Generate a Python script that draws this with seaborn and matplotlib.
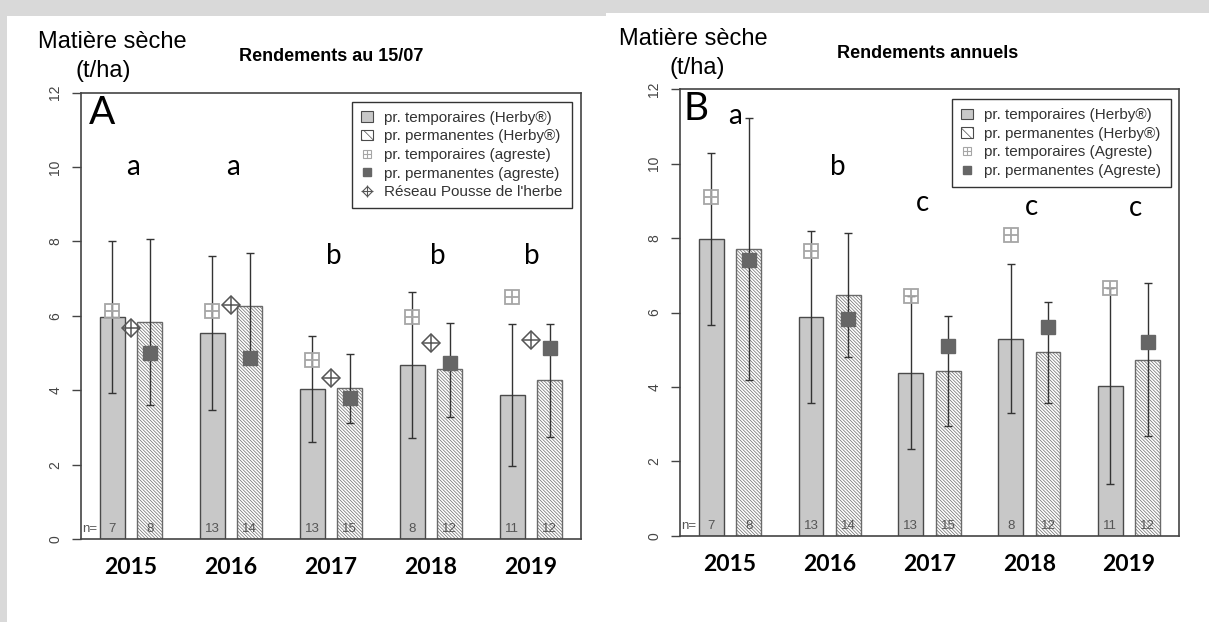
import pandas as pd
import seaborn as sns
import matplotlib.pyplot as plt
from matplotlib.patches import Patch, Rectangle
from matplotlib.lines import Line2D

years = ["2015", "2016", "2017", "2018", "2019"]
prairies = ["temporaires", "permanentes"]

# A : rendements au 15/07 (t MS/ha)
a_temp = [5.97, 5.53, 4.03, 4.68, 3.88]
a_perm = [5.83, 6.26, 4.05, 4.56, 4.28]
a_temp_lo = [3.93, 3.47, 2.60, 2.72, 1.95]
a_temp_hi = [8.00, 7.60, 5.46, 6.64, 5.77]
a_perm_lo = [3.61, 4.82, 3.11, 3.29, 2.75]
a_perm_hi = [8.06, 7.70, 4.98, 5.80, 5.77]
a_agreste_temp = [6.12, 6.13, 4.82, 5.97, 6.50]
a_agreste_perm = [5.01, 4.87, 3.79, 4.73, 5.14]
a_reseau = [5.67, 6.28, 4.32, 5.27, 5.34]
a_n_temp = [7, 13, 13, 8, 11]
a_n_perm = [8, 14, 15, 12, 12]
a_letters = ["a", "a", "b", "b", "b"]

# B : rendements annuels (t MS/ha)
b_temp = [7.98, 5.87, 4.38, 5.29, 4.02]
b_perm = [7.71, 6.47, 4.43, 4.93, 4.73]
b_temp_lo = [5.66, 3.58, 2.32, 3.29, 1.39]
b_temp_hi = [10.29, 8.19, 6.44, 7.30, 6.67]
b_perm_lo = [4.19, 4.81, 2.95, 3.58, 2.68]
b_perm_hi = [11.24, 8.13, 5.90, 6.29, 6.80]
b_agreste_temp = [9.10, 7.66, 6.44, 8.08, 6.65]
b_agreste_perm = [7.41, 5.82, 5.11, 5.62, 5.22]
b_n_temp = [7, 13, 13, 8, 11]
b_n_perm = [8, 14, 15, 12, 12]
b_letters = ["a", "b", "c", "c", "c"]

W, H = 1209, 622
TEMP_FILL = "#c8c8c8"
EDGE = "#4a4a4a"
HATCH_EDGE = "#6a6a6a"
AGR_T = "#a6a6a6"
AGR_P = "#666666"
RESEAU = "#555555"
HATCH = "\\" * 10

plt.rcParams["font.family"] = ["Liberation Sans", "DejaVu Sans"]
plt.rcParams["hatch.linewidth"] = 0.5


def draw_panel(ax, temp, perm, temp_lo, temp_hi, perm_lo, perm_hi,
               agr_temp, agr_perm, n_temp, n_perm, letters, letter_xy, reseau=None):
    df = pd.DataFrame({
        "annee": years * 2,
        "prairie": [prairies[0]] * len(years) + [prairies[1]] * len(years),
        "rendement": temp + perm,
    })
    sns.barplot(data=df, x="annee", y="rendement", hue="prairie", hue_order=prairies,
                palette=[TEMP_FILL, "white"], saturation=1, width=0.75, gap=1 / 3,
                edgecolor=EDGE, linewidth=1, errorbar=None, legend=False, ax=ax)
    for bar in ax.containers[1]:
        bar.set_hatch(HATCH)
        bar.set_edgecolor(HATCH_EDGE)

    x_temp = [b.get_x() + b.get_width() / 2 for b in ax.containers[0]]
    x_perm = [b.get_x() + b.get_width() / 2 for b in ax.containers[1]]
    for xs, lo, hi in [(x_temp, temp_lo, temp_hi), (x_perm, perm_lo, perm_hi)]:
        mid = [(l + h) / 2 for l, h in zip(lo, hi)]
        half = [(h - l) / 2 for l, h in zip(lo, hi)]
        ax.errorbar(xs, mid, yerr=half, fmt="none", ecolor="#333333",
                    elinewidth=1, capsize=3, capthick=1, zorder=4)

    # agreste : carré barré (temporaires) et carré plein (permanentes)
    ax.plot(x_temp, agr_temp, ls="none", marker="s", ms=9.5, mfc="none",
            mec=AGR_T, mew=1.3, zorder=5)
    ax.plot(x_temp, agr_temp, ls="none", marker="+", ms=9.5, mec=AGR_T, mew=1.3, zorder=5)
    ax.plot(x_perm, agr_perm, ls="none", marker="s", ms=9.5, color=AGR_P, zorder=5)
    if reseau is not None:
        xc = list(range(len(years)))
        ax.plot(xc, reseau, ls="none", marker="D", ms=9, mfc="none", mec=RESEAU, mew=1.1, zorder=5)
        ax.plot(xc, reseau, ls="none", marker="+", ms=12.5, mec=RESEAU, mew=1.1, zorder=5)

    for x, n in zip(x_temp, n_temp):
        ax.text(x, 0.27, str(n), ha="center", va="center", fontsize=9.5, color="#555555")
    for x, n in zip(x_perm, n_perm):
        ax.text(x, 0.27, str(n), ha="center", va="center", fontsize=9.5, color="#555555")
    left0 = ax.containers[0][0].get_x()
    ax.text(left0 - 0.02, 0.27, "n=", ha="right", va="center", fontsize=9.5, color="#555555")

    for i, (lab, (dx, y)) in enumerate(zip(letters, letter_xy)):
        ax.text(i + dx, y, lab, ha="center", va="center", fontsize=20, family="Lato")

    ax.set_xlim(-0.5, len(years) - 0.5)
    ax.set_ylim(0, 12)
    ax.set_yticks(range(0, 13, 2))
    ax.set_xticks(range(len(years)))
    ax.set_xticklabels(years, fontsize=16.5, fontweight="bold", family="Lato")
    ax.set_xlabel("")
    ax.set_ylabel("")
    ax.tick_params(axis="x", length=0, pad=13)
    ax.tick_params(axis="y", length=6.5, width=1, color="#444444", pad=7,
                   labelsize=10, labelcolor="#444444")
    for lbl in ax.get_yticklabels():
        lbl.set_rotation(90)
        lbl.set_va("center")
    for sp in ax.spines.values():
        sp.set_visible(True)
        sp.set_color("#444444")
        sp.set_linewidth(1.2)
    ax.set_facecolor("white")


def legend_handles(with_reseau):
    hs = [
        Patch(facecolor=TEMP_FILL, edgecolor=EDGE, linewidth=0.8),
        Patch(facecolor="white", edgecolor=EDGE, linewidth=0.8, hatch="\\\\\\"),
        (Line2D([], [], ls="none", marker="s", ms=6, mfc="none", mec=AGR_T, mew=0.8),
         Line2D([], [], ls="none", marker="+", ms=6, mec=AGR_T, mew=0.8)),
        Line2D([], [], ls="none", marker="s", ms=5.5, color=AGR_P),
    ]
    if with_reseau:
        hs.append((Line2D([], [], ls="none", marker="D", ms=5.5, mfc="none", mec=RESEAU, mew=0.8),
                   Line2D([], [], ls="none", marker="+", ms=8, mec=RESEAU, mew=0.8)))
    return hs


fig = plt.figure(figsize=(W / 100, H / 100), dpi=100)
fig.patch.set_facecolor("#d9d9d9")
fig.add_artist(Rectangle((7 / W, 0), 599 / W, (H - 16) / H, transform=fig.transFigure,
                         facecolor="white", edgecolor="none", zorder=-10))
fig.add_artist(Rectangle((606 / W, 0), 603 / W, (H - 13) / H, transform=fig.transFigure,
                         facecolor="white", edgecolor="none", zorder=-10))

ax_a = fig.add_axes([81 / W, 1 - 539 / H, 500 / W, 446.3 / H])
ax_b = fig.add_axes([680 / W, 1 - 535.7 / H, 499 / W, 446.4 / H])

draw_panel(ax_a, a_temp, a_perm, a_temp_lo, a_temp_hi, a_perm_lo, a_perm_hi,
           a_agreste_temp, a_agreste_perm, a_n_temp, a_n_perm, a_letters,
           [(0.02, 10.0), (0.02, 10.0), (0.03, 7.6), (0.07, 7.6), (0.01, 7.6)],
           reseau=a_reseau)
draw_panel(ax_b, b_temp, b_perm, b_temp_lo, b_temp_hi, b_perm_lo, b_perm_hi,
           b_agreste_temp, b_agreste_perm, b_n_temp, b_n_perm, b_letters,
           [(0.05, 11.27), (0.08, 9.92), (-0.07, 8.94), (0.02, 8.83), (0.06, 8.80)])

ax_a.text(-0.42, 11.45, "A", ha="left", va="center", fontsize=28, family="Lato")
ax_b.text(-0.46, 11.47, "B", ha="left", va="center", fontsize=28, family="Lato")

leg_kw = dict(loc="upper right", borderaxespad=0, frameon=True, fancybox=False,
              edgecolor="#333333", framealpha=1, fontsize=11, labelspacing=0.3,
              handlelength=0.75, handleheight=0.65, handletextpad=0.75, borderpad=0.6,
              labelcolor="#333333")
leg_a = ax_a.legend(legend_handles(True),
                    ["pr. temporaires (Herby®)", "pr. permanentes (Herby®)",
                     "pr. temporaires (agreste)", "pr. permanentes (agreste)",
                     "Réseau Pousse de l'herbe"],
                    bbox_to_anchor=(0.981, 0.980), **leg_kw)
leg_b = ax_b.legend(legend_handles(False),
                    ["pr. temporaires (Herby®)", "pr. permanentes (Herby®)",
                     "pr. temporaires (Agreste)", "pr. permanentes (Agreste)"],
                    bbox_to_anchor=(0.983, 0.978), **leg_kw)
for leg in (leg_a, leg_b):
    leg.get_frame().set_linewidth(1)

fig.text(331 / W, 1 - 56.7 / H, "Rendements au 15/07", ha="center", va="center",
         fontsize=13, fontweight="bold")
fig.text(928 / W, 1 - 53.3 / H, "Rendements annuels", ha="center", va="center",
         fontsize=13, fontweight="bold")
fig.text(112.8 / W, 1 - 41.7 / H, "Matière sèche", ha="center", va="center", fontsize=17)
fig.text(103.6 / W, 1 - 71 / H, "(t/ha)", ha="center", va="center", fontsize=17)
fig.text(693.7 / W, 1 - 39.3 / H, "Matière sèche", ha="center", va="center", fontsize=17)
fig.text(697.5 / W, 1 - 68.3 / H, "(t/ha)", ha="center", va="center", fontsize=17)

fig.savefig("out.png", dpi=100, facecolor=fig.get_facecolor())
